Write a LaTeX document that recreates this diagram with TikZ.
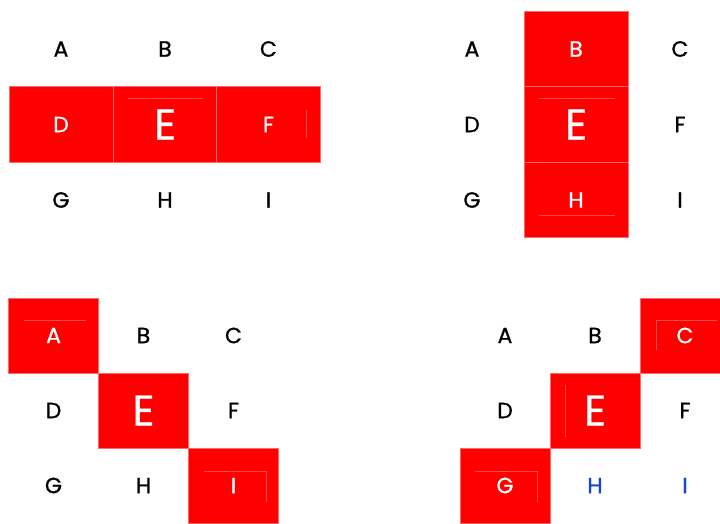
\documentclass[tikz,border=0pt]{standalone}
\usepackage{fontspec}
\setmainfont{Poppins}[FakeBold=0.9]
\definecolor{cellred}{HTML}{FF0000}
\definecolor{edgered}{HTML}{FF6A6A}
\definecolor{faintred}{HTML}{FF4A4A}
\definecolor{letterblue}{HTML}{1846C8}
\tikzset{
  cellA/.style={minimum width=104pt, minimum height=75.5pt, inner sep=0pt, outer sep=0pt, font=\fontsize{22}{22}\selectfont},
  cellB/.style={minimum width=90pt, minimum height=75pt, inner sep=0pt, outer sep=0pt, font=\fontsize{22}{22}\selectfont},
  hot/.style={fill=cellred, draw=edgered, line width=0.6pt, text=white},
  big/.style={font=\fontsize{43}{43}\selectfont},
  blue/.style={text=letterblue},
  faint/.style={draw=faintred, line width=0.6pt}
}
\begin{document}
\begin{tikzpicture}[x=1pt,y=-1pt]
\useasboundingbox[fill=white] (0,0) rectangle (720,523);
% ---- grid 1: middle row
\node[cellA] (a1) at (61,49) {A};
\node[cellA] (b1) at (165,49) {B};
\node[cellA] (c1) at (268.5,49) {C};
\node[cellA,hot] (d1) at (61,124.5) {D};
\node[cellA,hot,big] (e1) at (165,124.5) {E};
\node[cellA,hot] (f1) at (268.5,124.5) {F};
\node[cellA] (g1) at (61,200) {G};
\node[cellA] (h1) at (165,200) {H};
\node[cellA] (i1) at (268.5,200) {I};
\draw[faint] (128,98.3) -- (203,98.3);
\draw[faint] (306.7,110) -- (306.7,138);
% ---- grid 2: middle column
\node[cellA] (a2) at (472,49) {A};
\node[cellA,hot] (b2) at (576,49) {B};
\node[cellA] (c2) at (680,49) {C};
\node[cellA] (d2) at (472,124.5) {D};
\node[cellA,hot,big] (e2) at (576,124.5) {E};
\node[cellA] (f2) at (680,124.5) {F};
\node[cellA] (g2) at (472,200) {G};
\node[cellA,hot] (h2) at (576,200) {H};
\node[cellA] (i2) at (680,200) {I};
\draw[faint] (539,98.3) -- (615,98.3);
\draw[faint] (539,215) -- (615,215);
% ---- grid 3: main diagonal
\node[cellB,hot] (a3) at (53.5,335.5) {A};
\node[cellB] (b3) at (143.5,335.5) {B};
\node[cellB] (c3) at (233.5,335.5) {C};
\node[cellB] (d3) at (53.5,410.5) {D};
\node[cellB,hot,big] (e3) at (143.5,410.5) {E};
\node[cellB] (f3) at (233.5,410.5) {F};
\node[cellB] (g3) at (53.5,485.5) {G};
\node[cellB] (h3) at (143.5,485.5) {H};
\node[cellB,hot] (i3) at (233.5,485.5) {I};
\draw[faint] (24,320.7) -- (85.7,320.7);
\draw[faint] (204,471.7) -- (266,471.7) -- (266,501.7);
% ---- grid 4: anti-diagonal
\node[cellB] (a4) at (505,335.5) {A};
\node[cellB] (b4) at (595,335.5) {B};
\node[cellB,hot] (c4) at (685,335.5) {C};
\node[cellB] (d4) at (505,410.5) {D};
\node[cellB,hot,big] (e4) at (595,410.5) {E};
\node[cellB] (f4) at (685,410.5) {F};
\node[cellB,hot] (g4) at (505,485.5) {G};
\node[cellB,blue] (h4) at (595,485.5) {H};
\node[cellB,blue] (i4) at (685,485.5) {I};
\draw[faint] (656,350) -- (656,320.7) -- (716.7,320.7);
\draw[faint] (565.7,385) -- (565.7,436.7);
\draw[faint] (475,471.7) -- (537.3,471.7) -- (537.3,501.7);
\end{tikzpicture}
\end{document}
